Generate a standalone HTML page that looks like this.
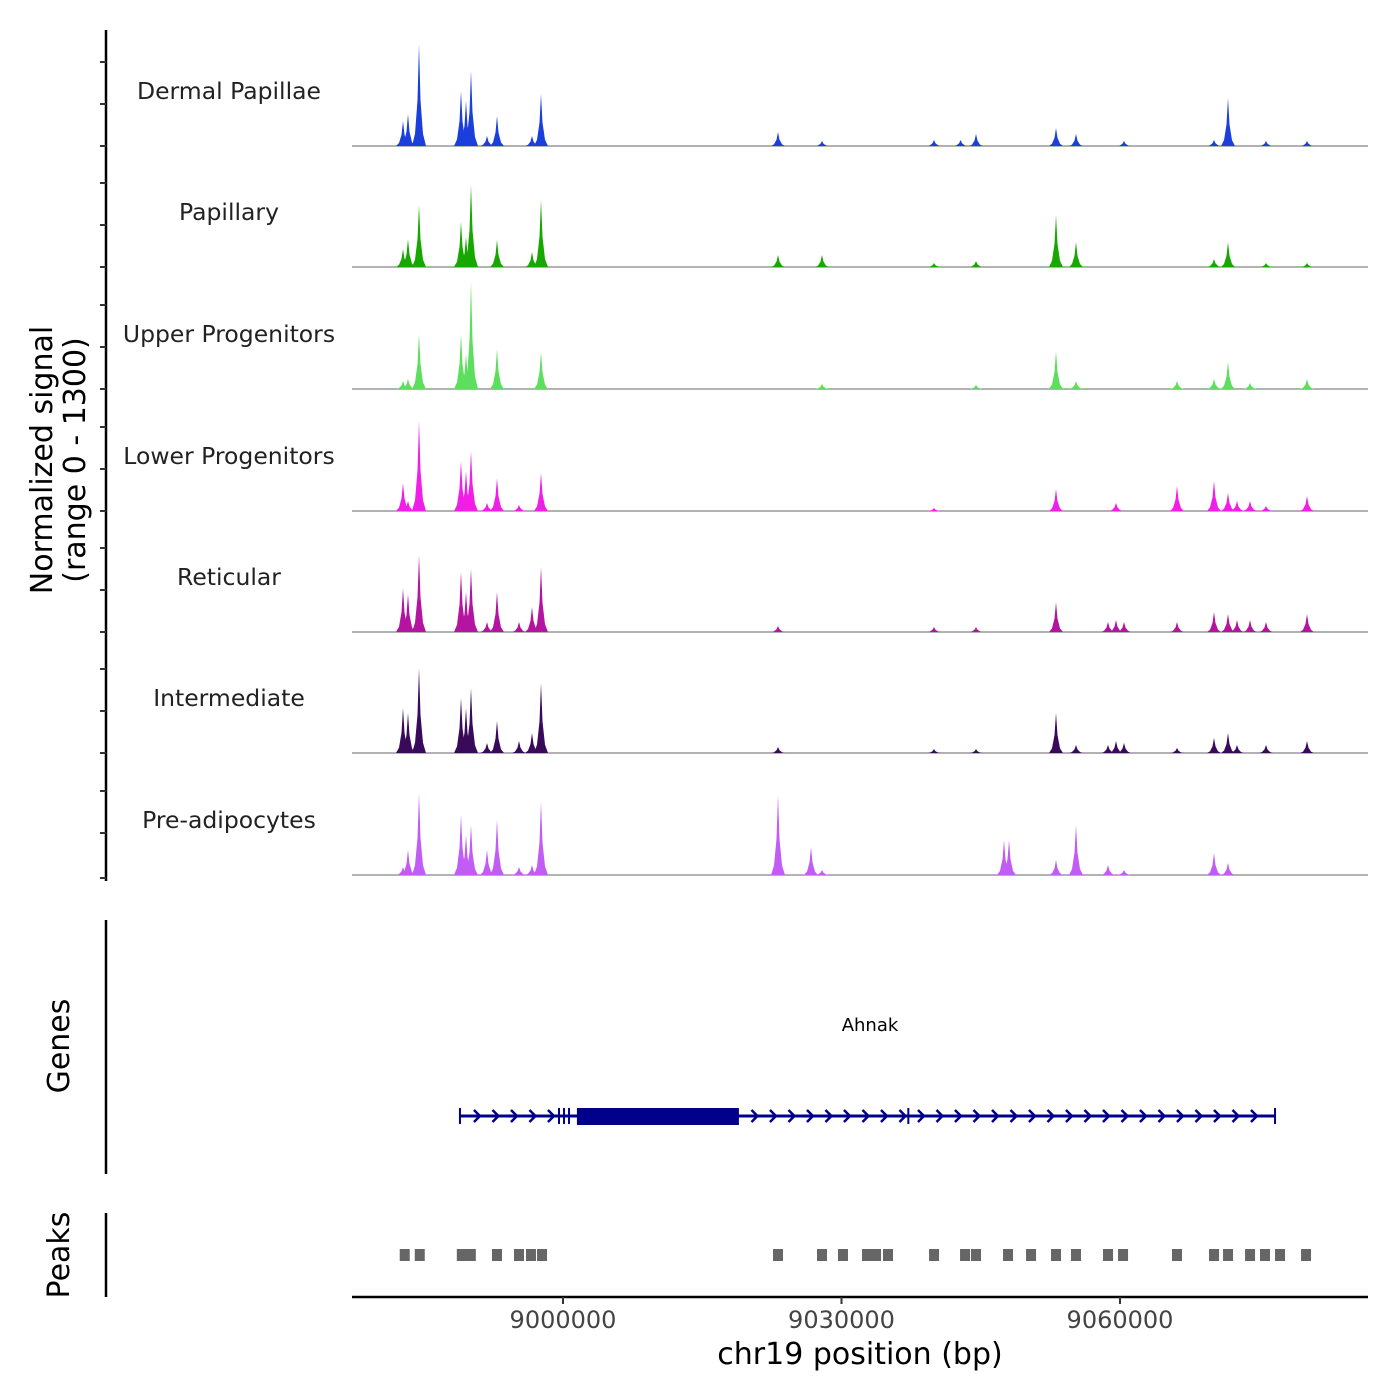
<!DOCTYPE html>
<html><head><meta charset="utf-8"><style>
html,body{margin:0;padding:0;background:#fff;}
svg{display:block;font-family:"DejaVu Sans","Liberation Sans",sans-serif;}
</style></head><body>
<svg id="chart" width="1400" height="1400" viewBox="0 0 1400 1400" xmlns="http://www.w3.org/2000/svg">
<g id="tracks"></g>
<g id="left"></g>
<g id="genes"></g>
<g id="peaks"></g>
<g id="xaxis"></g>
</svg>
<script>
const trackNames = ["Dermal Papillae","Papillary","Upper Progenitors","Lower Progenitors","Reticular","Intermediate","Pre-adipocytes"];
const trackColors = ["#1a3fdc","#17a800","#5ede5e","#f01ee6","#b4149f","#3a0a5a","#c15df5"];
const peakPos = [8982764,8983302,8984488,8989012,8989550,8990089,8991813,8992890,8995260,8996660,8997630,9023160,9026715,9027900,9039965,9042830,9044490,9047506,9048045,9053108,9055262,9058710,9059570,9060430,9066140,9070126,9071634,9072604,9074005,9075728,9080145];
const sigDermal = [268,342,1091,589,482,803,107,321,0,107,556,150,0,54,64,64,128,0,0,193,128,0,0,54,0,64,514,0,0,54,54];
const sigPapillary = [193,300,663,482,321,877,0,289,0,161,717,128,0,128,43,0,64,0,0,556,268,0,0,0,0,86,268,0,0,43,43];
const sigUpper = [86,107,589,589,375,1145,0,428,0,0,396,0,0,54,0,0,43,0,0,407,86,0,0,0,86,107,289,0,64,0,107];
const sigLower = [300,107,963,535,428,642,86,353,64,0,407,0,0,0,32,0,0,0,0,235,0,0,86,0,268,321,193,107,107,54,161];
const sigReticular = [471,407,824,642,428,674,107,428,107,268,696,64,0,0,54,0,54,0,0,321,0,107,128,107,107,214,193,128,128,107,193];
const sigIntermediate = [482,428,910,589,482,696,107,342,128,214,749,64,0,0,43,0,43,0,0,428,86,86,128,107,54,161,214,86,0,86,128];
const sigPre = [86,268,877,642,428,535,268,589,86,107,781,856,300,54,0,0,0,375,375,161,535,107,0,54,0,235,128,0,0,0,0];
const signals = [sigDermal,sigPapillary,sigUpper,sigLower,sigReticular,sigIntermediate,sigPre];
const xTicks = [9000000,9030000,9060000];
const peakRegions = [8982950,8984570,8989100,8990070,8992890,8995260,8996550,8997740,9023160,9027900,9030160,9032750,9033720,9035010,9039970,9043310,9044490,9047940,9050420,9053110,9055260,9058710,9060330,9066140,9070130,9071640,9074010,9075620,9077240,9080040];
const geneStart = 8988900, geneEnd = 9076700, cdsStart = 9001500, cdsEnd = 9018950;
const exonMarks = [8988900,8999570,9000110,9000650,9037200,9076700];

const NS="http://www.w3.org/2000/svg";
function mk(tag,attrs,parent){const e=document.createElementNS(NS,tag);for(const k in attrs)e.setAttribute(k,attrs[k]);parent.appendChild(e);return e;}
const X0=352,X1=1368,D0=8977270,D1=9086716;
const xs=v=>X0+(v-D0)/(D1-D0)*(X1-X0);
const baselines=[146,267,389,511,632,753,875];
const TH=121.5;
const ys=(v,b)=>b-v/1300*TH;

const gT=document.getElementById('tracks');
signals.forEach((sig,t)=>{
  const b=baselines[t];
  const g=mk('g',{},gT);
  
  
  const lbl=mk('text',{x:229,y:b-47,'text-anchor':'middle','font-size':23.5,fill:'#222'},g);
  lbl.textContent=trackNames[t];
  
  
  const bl=mk('line',{x1:X0,x2:X1,y1:b,y2:b,stroke:'#666','stroke-width':1},g);
  
  
  sig.forEach((v,i)=>{
    if(v<=0)return;
    const x=xs(peakPos[i]);const top=ys(v,b);const h=b-top;
    const pts=[[x-7,b],[x-4,b-h*0.12],[x-1.5,b-h*0.45],[x,top],[x+1.5,b-h*0.45],[x+4,b-h*0.12],[x+7,b]];
    const p=mk('polygon',{points:pts.map(q=>q[0].toFixed(1)+','+q[1].toFixed(1)).join(' '),fill:trackColors[t]},g);
    
    
  });
});

const gL=document.getElementById('left');
const ax1=mk('line',{x1:106,x2:106,y1:30,y2:881,stroke:'#000','stroke-width':2.5},gL);


baselines.forEach(b=>{[0,42,84].forEach(o=>{
  const tk=mk('line',{x1:100,x2:106,y1:b-o+ (o===0&&b===875?3:0),y2:b-o+(o===0&&b===875?3:0),stroke:'#333','stroke-width':2},gL);
  
  
});});
const yt=mk('text',{transform:'translate(52,460) rotate(-90)','text-anchor':'middle','font-size':30,fill:'#000'},gL);


const t1=mk('tspan',{x:0,dy:0},yt);t1.textContent='Normalized signal';
const t2=mk('tspan',{x:0,dy:33},yt);t2.textContent='(range 0 - 1300)';
const ax2=mk('line',{x1:106,x2:106,y1:920,y2:1174,stroke:'#000','stroke-width':2.5},gL);


const gl=mk('text',{transform:'translate(69,1046) rotate(-90)','text-anchor':'middle','font-size':30,fill:'#000'},gL);
gl.textContent='Genes';


const ax3=mk('line',{x1:106,x2:106,y1:1213,y2:1297,stroke:'#000','stroke-width':2.5},gL);


const pl=mk('text',{transform:'translate(69,1255) rotate(-90)','text-anchor':'middle','font-size':30,fill:'#000'},gL);
pl.textContent='Peaks';



const gG=document.getElementById('genes');
const gc='#00008b';
const gn=mk('text',{x:870,y:1031,'text-anchor':'middle','font-size':18,fill:'#000'},gG);
gn.textContent='Ahnak';


const gline=mk('line',{x1:xs(geneStart),x2:xs(geneEnd),y1:1116,y2:1116,stroke:gc,'stroke-width':3},gG);


for(let x=xs(geneStart)+18;x<xs(geneEnd)-4;x+=18.5){
  if(x>xs(cdsStart)-8&&x<xs(cdsEnd)+8)continue;
  const ch=mk('polyline',{points:`${x-4},${1110} ${x+2},${1116} ${x-4},${1122}`,fill:'none',stroke:gc,'stroke-width':2.5},gG);
  
  
}
exonMarks.forEach(v=>{
  const e=mk('line',{x1:xs(v),x2:xs(v),y1:1108,y2:1124,stroke:gc,'stroke-width':2},gG);
  
  
});
const cds=mk('rect',{x:xs(cdsStart),y:1108,width:xs(cdsEnd)-xs(cdsStart),height:17,fill:gc},gG);



const gP=document.getElementById('peaks');
peakRegions.forEach(v=>{
  const r=mk('rect',{x:xs(v)-5,y:1249,width:10,height:12,fill:'#666'},gP);
  
  
});

const gX=document.getElementById('xaxis');
const xl=mk('line',{x1:X0,x2:X1,y1:1297,y2:1297,stroke:'#000','stroke-width':2.5},gX);


xTicks.forEach(v=>{
  const tk=mk('line',{x1:xs(v),x2:xs(v),y1:1297,y2:1304,stroke:'#333','stroke-width':2},gX);
  
  
  const tl=mk('text',{x:xs(v),y:1328,'text-anchor':'middle','font-size':24,fill:'#444'},gX);
  tl.textContent=String(v);
  
  
});
const xt=mk('text',{x:860,y:1364,'text-anchor':'middle','font-size':30,fill:'#000'},gX);
xt.textContent='chr19 position (bp)';


</script>
</body></html>
